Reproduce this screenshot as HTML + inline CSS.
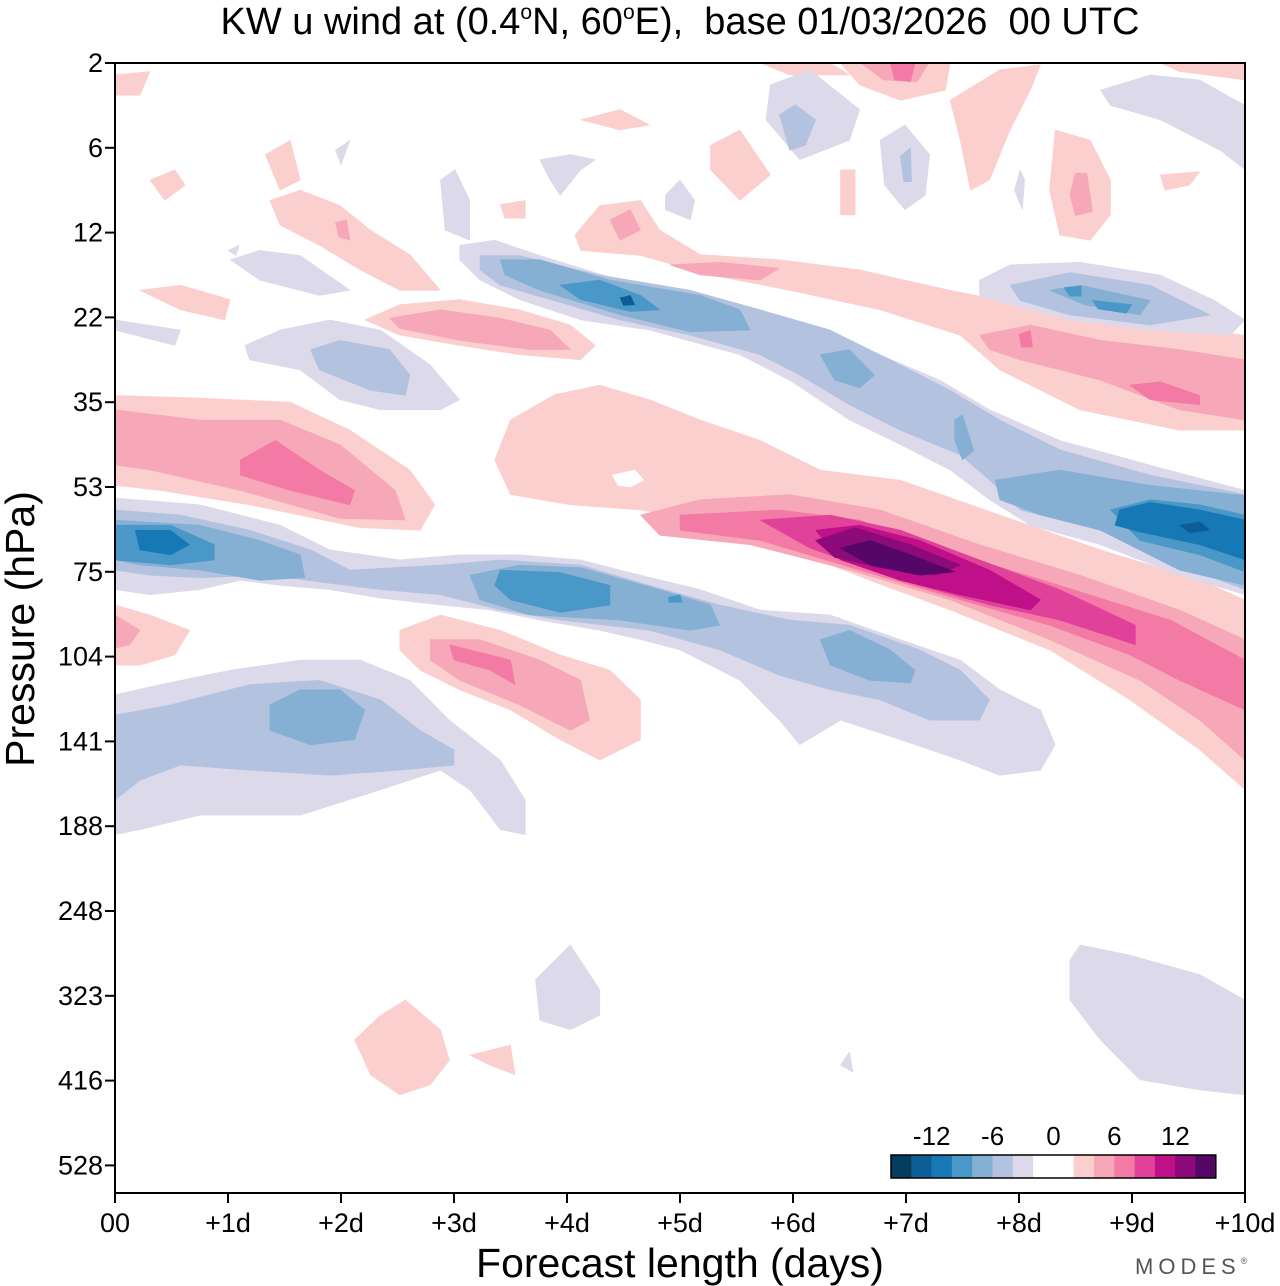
<!DOCTYPE html>
<html><head><meta charset="utf-8"><style>
html,body{margin:0;padding:0;background:#fff;width:1280px;height:1286px;overflow:hidden}
svg text{font-family:"Liberation Sans",Arial,sans-serif}
</style></head><body>
<svg id="chart" width="1280" height="1286" viewBox="0 0 1280 1286" xmlns="http://www.w3.org/2000/svg">
<g id="fills"></g>
<g id="axes"></g>
</svg>
<script>
// ---- data ----
const xTickLabels = ["00","+1d","+2d","+3d","+4d","+5d","+6d","+7d","+8d","+9d","+10d"];
const yTickLabels = ["2","6","12","22","35","53","75","104","141","188","248","323","416","528"];
const levelValues = [-14,-12,-10,-8,-6,-4,-2,0,2,4,6,8,10,12,14];
const levelColors = {"-14":"#053d5f","-12":"#0c5f96","-10":"#1679b6","-8":"#4998c8","-6":"#85b0d4","-4":"#b3c3df","-2":"#dcd9ea","0":"#ffffff","2":"#fbcfcd","4":"#f6a8b8","6":"#f47aa6","8":"#e0429a","10":"#bf0f89","12":"#8c0a7a","14":"#540766"};
const cbarColors = ["#053d5f","#0c5f96","#1679b6","#4998c8","#85b0d4","#b3c3df","#dcd9ea","#ffffff","#ffffff","#fbcfcd","#f6a8b8","#f47aa6","#e0429a","#bf0f89","#8c0a7a","#540766"];
const cbarLabels = ["-12","-6","0","6","12"];
const cbarLabelValues = [-12,-6,0,6,12];
// contour regions: [level, [[day, pressureLevelIndex], ...]]
const contourRegions = [
[2,[[0,3.92],[.75,3.95],[1.55,4],[2.08,4.33],[2.61,4.8],[2.83,5.21],[2.7,5.51],[2.17,5.48],[1.19,5.21],[.4,5.04],[0,4.98]]],
[4,[[0,4.09],[.75,4.21],[1.46,4.21],[1.99,4.5],[2.48,5.04],[2.57,5.39],[1.99,5.37],[1.11,5.04],[.31,4.8],[0,4.74]]],
[6,[[1.11,4.68],[1.42,4.45],[1.81,4.8],[2.12,5.04],[2.08,5.21],[1.55,5.04],[1.11,4.86]]],
[2,[[3.36,4.68],[3.5,4.21],[3.89,3.91],[4.29,3.8],[4.73,3.97],[5.18,4.21],[5.71,4.45],[6.24,4.8],[6.95,4.92],[7.83,5.33],[8.72,5.74],[9.6,6.1],[10,6.33],[10,8.57],[9.6,8.1],[8.98,7.51],[8.27,6.92],[7.39,6.45],[6.68,6.1],[5.88,5.68],[5.18,5.39],[4.65,5.27],[4.03,5.21],[3.5,5.09]]],
[0,[[4.4,4.86],[4.6,4.8],[4.68,4.92],[4.56,5.0],[4.45,4.98]]],
[4,[[4.65,5.33],[5.18,5.15],[5.97,5.09],[6.77,5.27],[7.65,5.68],[8.54,6.04],[9.42,6.45],[10,6.8],[10,8.22],[9.6,7.75],[9.07,7.28],[8.27,6.8],[7.39,6.33],[6.5,5.98],[5.62,5.68],[4.82,5.57]]],
[6,[[5,5.33],[5.88,5.27],[6.59,5.39],[7.48,5.8],[8.36,6.16],[9.34,6.57],[10,7.04],[10,7.63],[9.42,7.28],[8.98,6.98],[8.27,6.63],[7.48,6.33],[6.59,5.98],[5.71,5.63],[5,5.51]]],
[8,[[5.71,5.39],[6.33,5.33],[6.95,5.51],[7.65,5.86],[8.36,6.21],[9.03,6.63],[9.03,6.86],[8.36,6.57],[7.74,6.39],[6.95,6.1],[6.15,5.72]]],
[10,[[6.2,5.51],[6.59,5.45],[7.12,5.63],[7.74,5.98],[8.19,6.33],[8.1,6.45],[7.48,6.27],[6.95,6.1],[6.42,5.86]]],
[12,[[6.2,5.63],[6.55,5.48],[7.04,5.68],[7.48,5.92],[7.26,6.04],[6.77,5.95],[6.37,5.83]]],
[14,[[6.42,5.72],[6.68,5.63],[7.04,5.8],[7.43,6.0],[7.12,6.04],[6.68,5.92]]],
[2,[[2.52,6.69],[2.88,6.51],[3.41,6.69],[3.94,6.98],[4.38,7.16],[4.65,7.51],[4.65,7.98],[4.29,8.22],[3.94,7.98],[3.5,7.63],[3.05,7.39],[2.7,7.16],[2.52,6.92]]],
[4,[[2.79,6.8],[3.23,6.8],[3.76,7.04],[4.12,7.28],[4.2,7.75],[4.03,7.87],[3.58,7.57],[3.05,7.28],[2.79,7.04]]],
[6,[[2.96,6.86],[3.14,6.92],[3.5,7.04],[3.54,7.33],[3.32,7.16],[3.0,7.04]]],
[2,[[0,6.39],[.31,6.51],[.66,6.69],[.53,6.98],[.22,7.1],[0,7.1]]],
[4,[[0,6.51],[.22,6.69],[.13,6.86],[0,6.9]]],
[2,[[2.21,3.03],[2.52,2.85],[3.05,2.79],[3.58,2.91],[4.03,3.09],[4.25,3.33],[4.12,3.5],[3.58,3.44],[3.05,3.33],[2.52,3.21]]],
[4,[[2.43,3.01],[2.88,2.91],[3.41,3.01],[3.85,3.15],[4.03,3.38],[3.67,3.38],[3.05,3.27],[2.52,3.13]]],
[2,[[1.37,1.62],[1.64,1.5],[1.99,1.68],[2.26,1.97],[2.61,2.26],[2.88,2.68],[2.52,2.68],[2.17,2.44],[1.81,2.15],[1.46,1.91]]],
[4,[[1.95,1.88],[2.05,1.85],[2.08,2.09],[1.98,2.05]]],
[2,[[4.07,2.03],[4.29,1.68],[4.65,1.62],[4.82,1.97],[5.18,2.26],[5.88,2.32],[6.59,2.44],[7.39,2.68],[8.27,2.91],[9.16,3.09],[10,3.21],[10,4.33],[9.42,4.33],[8.54,4.09],[7.83,3.62],[7.48,3.21],[6.77,2.91],[5.97,2.68],[5.27,2.5],[4.65,2.27],[4.12,2.21]]],
[4,[[7.65,3.21],[8.1,3.09],[8.72,3.27],[9.42,3.38],[10,3.5],[10,4.21],[9.42,4.09],[8.72,3.74],[8.01,3.5],[7.74,3.38]]],
[6,[[8.98,3.8],[9.25,3.76],[9.6,3.92],[9.6,4.03],[9.16,3.97]]],
[6,[[8.0,3.2],[8.1,3.15],[8.12,3.35],[8.02,3.35]]],
[4,[[4.38,1.85],[4.56,1.73],[4.65,1.97],[4.47,2.09]]],
[4,[[4.91,2.38],[5.35,2.35],[5.88,2.42],[5.71,2.56],[5.18,2.5]]],
[2,[[5.71,0],[6.33,0],[6.5,.14],[5.97,.14]]],
[2,[[6.42,0],[7.39,0],[7.35,.32],[6.95,.44],[6.59,.26]]],
[4,[[6.6,0],[7.2,0],[7.1,.22],[6.8,.2]]],
[6,[[6.86,0],[7.08,0],[7.04,.22],[6.9,.2]]],
[2,[[9.25,0],[10,0],[10,.2],[9.42,.1]]],
[2,[[7.39,.44],[7.83,.08],[8.19,.02],[8.1,.32],[7.92,.79],[7.74,1.38],[7.57,1.5],[7.48,.91]]],
[2,[[8.32,.79],[8.63,.91],[8.81,1.38],[8.81,1.79],[8.63,2.09],[8.36,2.03],[8.27,1.5]]],
[4,[[8.5,1.3],[8.6,1.3],[8.65,1.75],[8.5,1.8],[8.45,1.55]]],
[2,[[6.42,1.26],[6.55,1.26],[6.55,1.79],[6.42,1.79]]],
[2,[[5.27,.97],[5.53,.79],[5.8,1.32],[5.53,1.62],[5.27,1.26]]],
[2,[[0,.14],[.31,.1],[.22,.38],[0,.38]]],
[2,[[.31,1.38],[.53,1.26],[.62,1.44],[.44,1.62]]],
[2,[[1.33,1.08],[1.55,.91],[1.64,1.38],[1.46,1.5]]],
[2,[[4.12,.67],[4.47,.55],[4.73,.73],[4.47,.79]]],
[2,[[3.41,1.67],[3.63,1.62],[3.63,1.83],[3.45,1.83]]],
[2,[[9.25,1.32],[9.6,1.28],[9.51,1.44],[9.29,1.5]]],
[2,[[.22,2.68],[.58,2.62],[1.02,2.79],[.97,3.03],[.58,2.91]]],
[2,[[2.12,11.52],[2.35,11.23],[2.57,11.05],[2.88,11.4],[2.96,11.76],[2.79,12.05],[2.52,12.17],[2.26,11.93]]],
[2,[[3.14,11.7],[3.5,11.58],[3.54,11.93],[3.32,11.82]]],
[-2,[[0,5.13],[.75,5.21],[1.46,5.45],[1.9,5.74],[2.52,5.86],[3.05,5.8],[3.58,5.8],[4.12,5.86],[4.65,6.04],[5.18,6.21],[5.71,6.45],[6.33,6.51],[6.95,6.8],[7.48,7.04],[7.83,7.39],[8.19,7.63],[8.32,8.04],[8.19,8.34],[7.83,8.4],[7.48,8.22],[6.95,7.98],[6.42,7.75],[6.06,8.04],[5.88,7.75],[5.53,7.28],[5,6.92],[4.65,6.8],[4.29,6.69],[3.76,6.57],[3.32,6.45],[2.88,6.39],[2.35,6.31],[1.9,6.21],[1.46,6.16],[1.11,6.1],[.75,6.21],[.31,6.27],[0,6.21]]],
[-4,[[0,5.27],[.58,5.33],[1.19,5.51],[1.73,5.74],[2.08,5.98],[2.88,5.92],[3.41,5.86],[4.12,5.92],[4.73,6.16],[5.35,6.39],[5.97,6.57],[6.5,6.63],[7.12,6.92],[7.48,7.16],[7.74,7.51],[7.65,7.75],[7.21,7.75],[6.77,7.51],[6.33,7.39],[5.88,7.22],[5.35,6.92],[4.73,6.69],[3.94,6.57],[3.41,6.45],[2.88,6.27],[2.35,6.21],[1.81,6.12],[1.37,6.04],[.75,6.07],[.31,6.04],[0,5.98]]],
[-6,[[0,5.39],[.75,5.45],[1.28,5.63],[1.64,5.8],[1.68,6.07],[1.28,6.1],[.75,5.98],[.22,5.92],[0,5.86]]],
[-6,[[3.14,6.04],[3.58,5.92],[4.12,5.95],[4.82,6.21],[5.27,6.39],[5.35,6.63],[5.09,6.69],[4.47,6.57],[3.67,6.51],[3.23,6.33]]],
[-6,[[6.24,6.8],[6.5,6.69],[6.86,6.92],[7.08,7.16],[7.04,7.31],[6.68,7.28],[6.33,7.1]]],
[-8,[[0,5.45],[.49,5.45],[.88,5.68],[.88,5.86],[.49,5.92],[0,5.86]]],
[-8,[[3.41,5.98],[3.94,6.01],[4.38,6.16],[4.38,6.39],[3.94,6.48],[3.5,6.33],[3.36,6.16]]],
[-8,[[4.9,6.3],[5.0,6.27],[5.02,6.36],[4.9,6.36]]],
[-10,[[.18,5.51],[.49,5.51],[.66,5.68],[.49,5.8],[.22,5.74]]],
[-2,[[3.05,2.15],[3.36,2.09],[3.76,2.27],[4.47,2.56],[5.18,2.74],[5.71,2.91],[6.24,3.15],[6.77,3.44],[7.3,3.74],[7.74,4.09],[8.36,4.45],[9.16,4.74],[10,5.04],[10,6.27],[9.42,6.04],[8.72,5.68],[8.1,5.45],[7.74,5.15],[7.39,4.8],[6.95,4.5],[6.5,4.21],[5.97,3.74],[5.53,3.44],[4.73,3.15],[4.12,3.03],[3.58,2.79],[3.23,2.56],[3.05,2.32]]],
[-4,[[3.23,2.27],[3.58,2.27],[4.29,2.5],[5.09,2.68],[5.71,2.91],[6.33,3.15],[6.86,3.5],[7.39,3.86],[7.83,4.21],[8.36,4.56],[9.16,4.86],[10,5.09],[10,6.21],[9.42,5.92],[8.72,5.51],[8.01,5.27],[7.74,4.92],[7.48,4.62],[6.95,4.33],[6.5,4.03],[6.06,3.68],[5.71,3.44],[5.09,3.21],[4.47,3.03],[3.85,2.79],[3.41,2.62],[3.23,2.44]]],
[-6,[[3.41,2.32],[3.76,2.32],[4.38,2.56],[5.18,2.74],[5.53,2.91],[5.62,3.15],[5.09,3.17],[4.47,2.97],[3.76,2.68],[3.45,2.5]]],
[-6,[[6.24,3.44],[6.5,3.38],[6.72,3.68],[6.59,3.83],[6.37,3.74]]],
[-6,[[7.43,4.21],[7.5,4.15],[7.6,4.57],[7.5,4.68],[7.43,4.45]]],
[-6,[[7.79,4.92],[8.36,4.8],[9.16,4.98],[10,5.1],[10,6.16],[9.42,5.98],[8.72,5.51],[8.19,5.33],[7.83,5.15]]],
[-8,[[8.81,5.27],[9.16,5.15],[9.6,5.21],[10,5.33],[10,6.0],[9.6,5.8],[9.07,5.63]]],
[-8,[[3.94,2.62],[4.29,2.56],[4.65,2.74],[4.82,2.91],[4.56,2.93],[4.12,2.79]]],
[-10,[[8.89,5.27],[9.16,5.18],[9.6,5.27],[10,5.39],[10,5.86],[9.6,5.68],[9.07,5.53],[8.85,5.45]]],
[-12,[[9.42,5.45],[9.6,5.41],[9.69,5.51],[9.51,5.54]]],
[-12,[[4.47,2.77],[4.56,2.74],[4.6,2.85],[4.5,2.86]]],
[-2,[[7.65,2.56],[7.92,2.38],[8.54,2.35],[9.25,2.5],[9.73,2.8],[10,3.03],[9.87,3.21],[9.16,3.15],[8.45,3.03],[7.92,2.85],[7.65,2.74]]],
[-4,[[7.92,2.62],[8.45,2.47],[9.16,2.62],[9.69,2.97],[9.16,3.09],[8.45,2.97],[8.01,2.8]]],
[-6,[[8.27,2.68],[8.54,2.62],[9.16,2.8],[9.07,2.97],[8.58,2.85]]],
[-8,[[8.4,2.65],[8.55,2.63],[8.55,2.75],[8.45,2.75]]],
[-8,[[8.65,2.8],[9.0,2.85],[8.95,2.95],[8.7,2.9]]],
[-2,[[1.15,3.33],[1.46,3.15],[1.9,3.03],[2.35,3.15],[2.79,3.56],[3.05,3.97],[2.88,4.09],[2.35,4.09],[1.99,3.97],[1.64,3.62],[1.19,3.5]]],
[-4,[[1.73,3.38],[1.99,3.27],[2.43,3.38],[2.61,3.68],[2.57,3.92],[2.26,3.86],[1.81,3.62]]],
[-2,[[0,7.45],[.4,7.33],[1.02,7.16],[1.64,7.04],[2.17,7.04],[2.61,7.28],[2.96,7.75],[3.41,8.22],[3.63,8.69],[3.63,9.1],[3.41,9.04],[3.14,8.57],[2.88,8.34],[2.35,8.57],[1.64,8.87],[.75,8.87],[.22,9.04],[0,9.1]]],
[-4,[[0,7.69],[.49,7.57],[1.19,7.33],[1.81,7.28],[2.35,7.51],[2.7,7.87],[3.0,8.1],[3.0,8.28],[2.52,8.34],[1.9,8.4],[1.19,8.34],[.58,8.28],[.22,8.46],[0,8.69]]],
[-6,[[1.37,7.57],[1.64,7.39],[1.99,7.39],[2.21,7.63],[2.12,7.98],[1.73,8.04],[1.37,7.87]]],
[-2,[[3.72,10.81],[4.03,10.4],[4.29,10.93],[4.29,11.23],[4.03,11.4],[3.76,11.29]]],
[-2,[[8.45,10.58],[8.54,10.4],[8.98,10.52],[9.6,10.75],[10,11.05],[10,12.17],[9.6,12.11],[9.07,11.99],[8.72,11.52],[8.45,11.05]]],
[-2,[[6.42,11.82],[6.5,11.66],[6.53,11.9]]],
[-2,[[0,3.03],[.58,3.15],[.53,3.33],[0,3.15]]],
[-2,[[1.02,2.32],[1.28,2.21],[1.64,2.27],[2.08,2.68],[1.81,2.74],[1.28,2.56]]],
[-2,[[2.88,1.38],[3.01,1.26],[3.14,1.62],[3.14,2.09],[2.92,1.97]]],
[-2,[[3.76,1.14],[4.03,1.08],[4.25,1.14],[4.12,1.26],[3.94,1.56],[3.85,1.38]]],
[-2,[[4.87,1.56],[5,1.38],[5.13,1.62],[5.09,1.85],[4.87,1.73]]],
[-2,[[5.8,.26],[6.15,.08],[6.59,.55],[6.5,.91],[6.06,1.14],[5.76,.67]]],
[-4,[[5.88,.61],[6.02,.49],[6.2,.67],[6.11,.97],[5.97,1.03]]],
[-2,[[6.77,.91],[6.99,.73],[7.21,1.08],[7.17,1.56],[6.99,1.73],[6.81,1.44]]],
[-4,[[6.95,1.1],[7.04,1.0],[7.05,1.4],[6.98,1.4]]],
[-2,[[8.72,.32],[9.16,.14],[9.6,.2],[10,.5],[10,1.26],[9.78,1.03],[9.25,.67],[8.81,.5]]],
[-2,[[8.01,1.26],[8.05,1.38],[8.03,1.73],[7.96,1.5]]],
[-2,[[1.95,1.03],[2.08,.91],[2.0,1.2]]],
[-2,[[1.0,2.21],[1.1,2.15],[1.07,2.27]]]
];
// ---- layout ----
const PL=115, PR=1245, PT=63, PB=1193, ROW=84.8;
const xScale = d => PL + d*(PR-PL)/10;
const yScale = i => PT + i*ROW;
const cbX = v => 1053.5 + v*10.15;
const NS='http://www.w3.org/2000/svg';
function mk(tag, attrs, parent){const e=document.createElementNS(NS,tag);for(const k in attrs)e.setAttribute(k,attrs[k]);parent.appendChild(e);return e;}
const fills=document.getElementById('fills');
const axes=document.getElementById('axes');
const order = contourRegions.map((r,i)=>i);
const zeroIdx = order.filter(i=>contourRegions[i][0]===0);
const lvl2 = order.filter(i=>Math.abs(contourRegions[i][0])===2);
const higher = order.filter(i=>Math.abs(contourRegions[i][0])>2).sort((a,b)=>Math.abs(contourRegions[a][0])-Math.abs(contourRegions[b][0])||a-b);
[...lvl2, ...zeroIdx, ...higher].forEach(i=>{
  const [lv, pts] = contourRegions[i];
  const d = pts.map((p,j)=>(j?'L':'M')+xScale(p[0]).toFixed(1)+','+yScale(p[1]).toFixed(1)).join('')+'Z';
  const el = mk('path',{d:d,fill:levelColors[String(lv)],stroke:levelColors[String(lv)],'stroke-width':0.6,'stroke-linejoin':'round'},fills);
  
  
});
const frame = mk('rect',{x:PL,y:PT,width:PR-PL,height:PB-PT,fill:'none',stroke:'#000','stroke-width':2},axes);


yTickLabels.forEach((t,i)=>{
  const y=yScale(i);
  const tk=mk('line',{x1:PL-10,x2:PL,y1:y,y2:y,stroke:'#000','stroke-width':2},axes);
  
  
  const tx=mk('text',{x:PL-12,y:y+9,'text-anchor':'end','font-size':27,fill:'#000'},axes);
  tx.textContent=t;
  
  
});
xTickLabels.forEach((t,i)=>{
  const x=xScale(i);
  const tk=mk('line',{x1:x,x2:x,y1:PB,y2:PB+10,stroke:'#000','stroke-width':2},axes);
  
  
  const tx=mk('text',{x:x,y:1232,'text-anchor':'middle','font-size':27,fill:'#000'},axes);
  tx.textContent=t;
  
  
});
const cbW = 20.3, cbL = 891;
cbarColors.forEach((c,i)=>{
  const r=mk('rect',{x:cbL+i*cbW,y:1155,width:cbW+0.3,height:23,fill:c},axes);
  
  
});
const cbf=mk('rect',{x:cbL,y:1155,width:cbW*16,height:23,fill:'none',stroke:'#000','stroke-width':1.5},axes);


cbarLabels.forEach((t,i)=>{
  const tx=mk('text',{x:cbX(cbarLabelValues[i]),y:1145,'text-anchor':'middle','font-size':26,fill:'#000'},axes);
  tx.textContent=t;
  
  
});
</script>
<svg style="position:absolute;left:0;top:0" width="1280" height="1286">
<text x="680" y="34" text-anchor="middle" font-size="38" font-family="Liberation Sans, sans-serif" style="white-space:pre">KW u wind at (0.4<tspan font-size="21" dy="-15">o</tspan><tspan dy="15">N, 60</tspan><tspan font-size="21" dy="-15">o</tspan><tspan dy="15">E),&#160;&#160;base 01/03/2026&#160;&#160;00 UTC</tspan></text>
<text x="680" y="1277" text-anchor="middle" font-size="41" font-family="Liberation Sans, sans-serif">Forecast length (days)</text>
<text transform="translate(34,629) rotate(-90)" text-anchor="middle" font-size="41" font-family="Liberation Sans, sans-serif">Pressure (hPa)</text>
<text x="1135" y="1274" font-size="22" letter-spacing="5" fill="#555" font-family="Liberation Sans, sans-serif">MODES<tspan font-size="9" dy="-10">®</tspan></text>
</svg>
</body></html>
